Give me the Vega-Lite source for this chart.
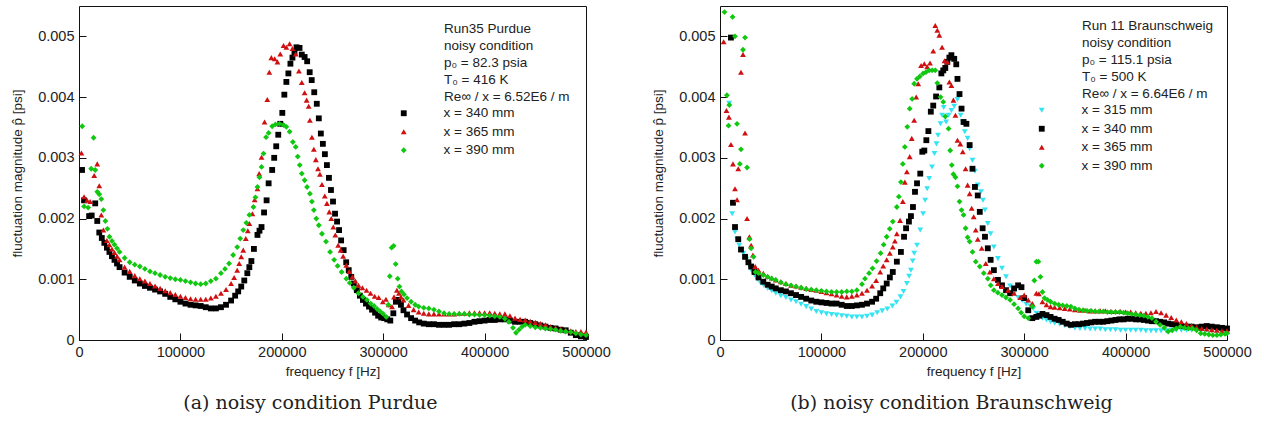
{
"$schema":"https://vega.github.io/schema/vega-lite/v6.json",
"padding":{"left":10,"top":5,"right":5,"bottom":5},
"background":"white",
"spacing":40,
"datasets":{
"purdue":[
{"s":"340","f":3000,"v":0.0028},{"s":"340","f":5000,"v":0.0023},{"s":"340","f":10000,"v":0.00204},{"s":"340","f":12500,"v":0.00205},{"s":"340","f":16000,"v":0.00225},{"s":"340","f":18000,"v":0.00196},{"s":"340","f":20000,"v":0.00177},{"s":"340","f":22500,"v":0.00168},{"s":"340","f":25000,"v":0.0016},{"s":"340","f":27500,"v":0.00152},{"s":"340","f":30000,"v":0.00145},{"s":"340","f":32500,"v":0.00138},{"s":"340","f":35000,"v":0.00132},{"s":"340","f":37500,"v":0.00126},{"s":"340","f":40000,"v":0.0012},{"s":"340","f":45000,"v":0.00111},{"s":"340","f":50000,"v":0.00104},{"s":"340","f":55000,"v":0.00098},{"s":"340","f":60000,"v":0.00093},{"s":"340","f":65000,"v":0.00089},{"s":"340","f":70000,"v":0.00086},{"s":"340","f":75000,"v":0.00083},{"s":"340","f":80000,"v":0.0008},{"s":"340","f":85000,"v":0.00076},{"s":"340","f":90000,"v":0.00071},{"s":"340","f":95000,"v":0.00067},{"s":"340","f":100000,"v":0.00063},{"s":"340","f":105000,"v":0.0006},{"s":"340","f":110000,"v":0.00058},{"s":"340","f":115000,"v":0.00057},{"s":"340","f":120000,"v":0.00056},{"s":"340","f":125000,"v":0.00054},{"s":"340","f":130000,"v":0.00052},{"s":"340","f":135000,"v":0.00052},{"s":"340","f":140000,"v":0.00054},{"s":"340","f":145000,"v":0.00058},{"s":"340","f":150000,"v":0.00065},{"s":"340","f":154000,"v":0.00073},{"s":"340","f":157000,"v":0.0008},{"s":"340","f":160000,"v":0.00088},{"s":"340","f":163000,"v":0.00098},{"s":"340","f":166000,"v":0.0011},{"s":"340","f":168000,"v":0.0012},{"s":"340","f":170000,"v":0.0013},{"s":"340","f":172500,"v":0.0015},{"s":"340","f":176000,"v":0.00173},{"s":"340","f":178000,"v":0.0018},{"s":"340","f":180000,"v":0.00186},{"s":"340","f":182500,"v":0.0021},{"s":"340","f":185000,"v":0.0023},{"s":"340","f":187000,"v":0.00258},{"s":"340","f":190500,"v":0.0028},{"s":"340","f":192500,"v":0.003},{"s":"340","f":194500,"v":0.00319},{"s":"340","f":196500,"v":0.00338},{"s":"340","f":198500,"v":0.00356},{"s":"340","f":200500,"v":0.00374},{"s":"340","f":202500,"v":0.00404},{"s":"340","f":204500,"v":0.00425},{"s":"340","f":206500,"v":0.00439},{"s":"340","f":208500,"v":0.00455},{"s":"340","f":210500,"v":0.00465},{"s":"340","f":212500,"v":0.00474},{"s":"340","f":214500,"v":0.00482},{"s":"340","f":217500,"v":0.00481},{"s":"340","f":219700,"v":0.0047},{"s":"340","f":222500,"v":0.00466},{"s":"340","f":225000,"v":0.00459},{"s":"340","f":227500,"v":0.00441},{"s":"340","f":229500,"v":0.00428},{"s":"340","f":232000,"v":0.00408},{"s":"340","f":234500,"v":0.00389},{"s":"340","f":236500,"v":0.00365},{"s":"340","f":238500,"v":0.0034},{"s":"340","f":240500,"v":0.00323},{"s":"340","f":242500,"v":0.00306},{"s":"340","f":244500,"v":0.00288},{"s":"340","f":246500,"v":0.00267},{"s":"340","f":248500,"v":0.00247},{"s":"340","f":250500,"v":0.00228},{"s":"340","f":252500,"v":0.00208},{"s":"340","f":254500,"v":0.00195},{"s":"340","f":256500,"v":0.00181},{"s":"340","f":258500,"v":0.00164},{"s":"340","f":261000,"v":0.00148},{"s":"340","f":263500,"v":0.00128},{"s":"340","f":266000,"v":0.00115},{"s":"340","f":268500,"v":0.00104},{"s":"340","f":271000,"v":0.00093},{"s":"340","f":274000,"v":0.00082},{"s":"340","f":277000,"v":0.00073},{"s":"340","f":280000,"v":0.00066},{"s":"340","f":283000,"v":0.0006},{"s":"340","f":286000,"v":0.00055},{"s":"340","f":289000,"v":0.0005},{"s":"340","f":292000,"v":0.00045},{"s":"340","f":295000,"v":0.0004},{"s":"340","f":298000,"v":0.00037},{"s":"340","f":301000,"v":0.00036},{"s":"340","f":304000,"v":0.00034},{"s":"340","f":307000,"v":0.00032},{"s":"340","f":310000,"v":0.00044},{"s":"340","f":312500,"v":0.00063},{"s":"340","f":315000,"v":0.00066},{"s":"340","f":317500,"v":0.00058},{"s":"340","f":320000,"v":0.00049},{"s":"340","f":323500,"v":0.00042},{"s":"340","f":327500,"v":0.00036},{"s":"340","f":331500,"v":0.00032},{"s":"340","f":335500,"v":0.00029},{"s":"340","f":340000,"v":0.00027},{"s":"340","f":345000,"v":0.00026},{"s":"340","f":350000,"v":0.00026},{"s":"340","f":355000,"v":0.00025},{"s":"340","f":360000,"v":0.00025},{"s":"340","f":365000,"v":0.00025},{"s":"340","f":370000,"v":0.00026},{"s":"340","f":375000,"v":0.00026},{"s":"340","f":380000,"v":0.00027},{"s":"340","f":385000,"v":0.00028},{"s":"340","f":390000,"v":0.0003},{"s":"340","f":395000,"v":0.00031},{"s":"340","f":400000,"v":0.00032},{"s":"340","f":405000,"v":0.00033},{"s":"340","f":410000,"v":0.00033},{"s":"340","f":415000,"v":0.00034},{"s":"340","f":420000,"v":0.00034},{"s":"340","f":425000,"v":0.00032},{"s":"340","f":430000,"v":0.0003},{"s":"340","f":435000,"v":0.0003},{"s":"340","f":440000,"v":0.0003},{"s":"340","f":445000,"v":0.00028},{"s":"340","f":450000,"v":0.00026},{"s":"340","f":455000,"v":0.00024},{"s":"340","f":460000,"v":0.00022},{"s":"340","f":465000,"v":0.0002},{"s":"340","f":470000,"v":0.00019},{"s":"340","f":475000,"v":0.00017},{"s":"340","f":480000,"v":0.00016},{"s":"340","f":485000,"v":0.00012},{"s":"340","f":490000,"v":0.00008},{"s":"340","f":495000,"v":0.00006},{"s":"340","f":500000,"v":0.00005},
{"s":"365","f":2400,"v":0.00308},{"s":"365","f":5000,"v":0.00236},{"s":"365","f":8000,"v":0.0023},{"s":"365","f":11000,"v":0.00228},{"s":"365","f":15000,"v":0.00271},{"s":"365","f":18000,"v":0.0029},{"s":"365","f":20000,"v":0.00254},{"s":"365","f":22000,"v":0.00206},{"s":"365","f":24000,"v":0.00181},{"s":"365","f":27500,"v":0.00164},{"s":"365","f":30000,"v":0.00157},{"s":"365","f":32500,"v":0.0015},{"s":"365","f":35000,"v":0.00144},{"s":"365","f":37500,"v":0.00138},{"s":"365","f":40000,"v":0.00132},{"s":"365","f":45000,"v":0.0012},{"s":"365","f":50000,"v":0.00113},{"s":"365","f":55000,"v":0.00106},{"s":"365","f":60000,"v":0.00101},{"s":"365","f":65000,"v":0.00097},{"s":"365","f":70000,"v":0.00093},{"s":"365","f":75000,"v":0.00089},{"s":"365","f":80000,"v":0.00085},{"s":"365","f":85000,"v":0.00081},{"s":"365","f":90000,"v":0.00078},{"s":"365","f":95000,"v":0.00075},{"s":"365","f":100000,"v":0.00072},{"s":"365","f":105000,"v":0.0007},{"s":"365","f":110000,"v":0.00068},{"s":"365","f":115000,"v":0.00067},{"s":"365","f":120000,"v":0.00067},{"s":"365","f":125000,"v":0.00067},{"s":"365","f":130000,"v":0.00069},{"s":"365","f":135000,"v":0.00072},{"s":"365","f":140000,"v":0.00077},{"s":"365","f":145000,"v":0.00083},{"s":"365","f":150000,"v":0.00093},{"s":"365","f":153000,"v":0.00103},{"s":"365","f":156000,"v":0.00115},{"s":"365","f":158000,"v":0.00126},{"s":"365","f":160000,"v":0.00137},{"s":"365","f":162000,"v":0.00148},{"s":"365","f":164500,"v":0.00167},{"s":"365","f":166500,"v":0.0018},{"s":"365","f":168000,"v":0.00192},{"s":"365","f":171000,"v":0.00208},{"s":"365","f":173300,"v":0.00231},{"s":"365","f":176000,"v":0.00249},{"s":"365","f":177700,"v":0.00274},{"s":"365","f":180000,"v":0.00301},{"s":"365","f":183000,"v":0.00359},{"s":"365","f":185700,"v":0.00396},{"s":"365","f":187700,"v":0.00441},{"s":"365","f":189700,"v":0.00465},{"s":"365","f":193000,"v":0.00463},{"s":"365","f":195700,"v":0.00458},{"s":"365","f":198500,"v":0.00471},{"s":"365","f":201700,"v":0.00485},{"s":"365","f":204500,"v":0.00482},{"s":"365","f":207700,"v":0.00488},{"s":"365","f":210500,"v":0.0048},{"s":"365","f":213700,"v":0.00471},{"s":"365","f":216900,"v":0.00443},{"s":"365","f":219700,"v":0.00424},{"s":"365","f":222500,"v":0.00407},{"s":"365","f":224500,"v":0.00395},{"s":"365","f":226500,"v":0.00385},{"s":"365","f":227700,"v":0.00362},{"s":"365","f":229700,"v":0.00334},{"s":"365","f":231600,"v":0.00314},{"s":"365","f":233600,"v":0.00297},{"s":"365","f":235700,"v":0.00282},{"s":"365","f":237600,"v":0.00273},{"s":"365","f":239600,"v":0.00256},{"s":"365","f":242400,"v":0.00237},{"s":"365","f":244500,"v":0.00225},{"s":"365","f":246800,"v":0.00211},{"s":"365","f":248800,"v":0.002},{"s":"365","f":250800,"v":0.00186},{"s":"365","f":252800,"v":0.00173},{"s":"365","f":255600,"v":0.00156},{"s":"365","f":258000,"v":0.00148},{"s":"365","f":260500,"v":0.00138},{"s":"365","f":263600,"v":0.00123},{"s":"365","f":266500,"v":0.00113},{"s":"365","f":269600,"v":0.00104},{"s":"365","f":272500,"v":0.00097},{"s":"365","f":275600,"v":0.0009},{"s":"365","f":279500,"v":0.00086},{"s":"365","f":283600,"v":0.00082},{"s":"365","f":287500,"v":0.00077},{"s":"365","f":291600,"v":0.00072},{"s":"365","f":295600,"v":0.0007},{"s":"365","f":299600,"v":0.00063},{"s":"365","f":302700,"v":0.00067},{"s":"365","f":305500,"v":0.00058},{"s":"365","f":308700,"v":0.00055},{"s":"365","f":310700,"v":0.00071},{"s":"365","f":313500,"v":0.00082},{"s":"365","f":315500,"v":0.00077},{"s":"365","f":317500,"v":0.00071},{"s":"365","f":320000,"v":0.00066},{"s":"365","f":325000,"v":0.00057},{"s":"365","f":330000,"v":0.0005},{"s":"365","f":335000,"v":0.00046},{"s":"365","f":340000,"v":0.00044},{"s":"365","f":345000,"v":0.00043},{"s":"365","f":350000,"v":0.00043},{"s":"365","f":355000,"v":0.00043},{"s":"365","f":360000,"v":0.00043},{"s":"365","f":365000,"v":0.00043},{"s":"365","f":370000,"v":0.00043},{"s":"365","f":375000,"v":0.00044},{"s":"365","f":380000,"v":0.00044},{"s":"365","f":385000,"v":0.00045},{"s":"365","f":390000,"v":0.00045},{"s":"365","f":395000,"v":0.00045},{"s":"365","f":400000,"v":0.00045},{"s":"365","f":405000,"v":0.00045},{"s":"365","f":410000,"v":0.00044},{"s":"365","f":415000,"v":0.00043},{"s":"365","f":420000,"v":0.00043},{"s":"365","f":425000,"v":0.0004},{"s":"365","f":430000,"v":0.00036},{"s":"365","f":435000,"v":0.00034},{"s":"365","f":440000,"v":0.00033},{"s":"365","f":445000,"v":0.00031},{"s":"365","f":450000,"v":0.00029},{"s":"365","f":455000,"v":0.00027},{"s":"365","f":460000,"v":0.00025},{"s":"365","f":465000,"v":0.00022},{"s":"365","f":470000,"v":0.0002},{"s":"365","f":475000,"v":0.00018},{"s":"365","f":480000,"v":0.00016},{"s":"365","f":485000,"v":0.00015},{"s":"365","f":490000,"v":0.00014},{"s":"365","f":495000,"v":0.00014},{"s":"365","f":500000,"v":0.00013},
{"s":"390","f":3200,"v":0.00352},{"s":"390","f":5000,"v":0.0022},{"s":"390","f":9000,"v":0.00218},{"s":"390","f":12000,"v":0.00282},{"s":"390","f":14400,"v":0.00333},{"s":"390","f":16000,"v":0.0028},{"s":"390","f":18000,"v":0.00244},{"s":"390","f":20000,"v":0.0024},{"s":"390","f":22000,"v":0.00232},{"s":"390","f":24000,"v":0.00214},{"s":"390","f":26000,"v":0.00196},{"s":"390","f":28000,"v":0.00183},{"s":"390","f":30000,"v":0.0017},{"s":"390","f":32500,"v":0.00163},{"s":"390","f":35000,"v":0.00157},{"s":"390","f":37500,"v":0.00151},{"s":"390","f":40000,"v":0.00145},{"s":"390","f":45000,"v":0.00135},{"s":"390","f":50000,"v":0.00128},{"s":"390","f":55000,"v":0.00124},{"s":"390","f":60000,"v":0.00121},{"s":"390","f":65000,"v":0.00117},{"s":"390","f":70000,"v":0.00113},{"s":"390","f":75000,"v":0.0011},{"s":"390","f":80000,"v":0.00107},{"s":"390","f":85000,"v":0.00104},{"s":"390","f":90000,"v":0.00102},{"s":"390","f":95000,"v":0.001},{"s":"390","f":100000,"v":0.00099},{"s":"390","f":105000,"v":0.00097},{"s":"390","f":110000,"v":0.00095},{"s":"390","f":115000,"v":0.00093},{"s":"390","f":120000,"v":0.00092},{"s":"390","f":125000,"v":0.00093},{"s":"390","f":130000,"v":0.00097},{"s":"390","f":135000,"v":0.00101},{"s":"390","f":140000,"v":0.0011},{"s":"390","f":144000,"v":0.00117},{"s":"390","f":148000,"v":0.00126},{"s":"390","f":152000,"v":0.0014},{"s":"390","f":156000,"v":0.00153},{"s":"390","f":159000,"v":0.00167},{"s":"390","f":162000,"v":0.00181},{"s":"390","f":165000,"v":0.00193},{"s":"390","f":168000,"v":0.00206},{"s":"390","f":172000,"v":0.00219},{"s":"390","f":174000,"v":0.00235},{"s":"390","f":176000,"v":0.00252},{"s":"390","f":178000,"v":0.00268},{"s":"390","f":180000,"v":0.00285},{"s":"390","f":182000,"v":0.00307},{"s":"390","f":184500,"v":0.00334},{"s":"390","f":187000,"v":0.00341},{"s":"390","f":190500,"v":0.00352},{"s":"390","f":193700,"v":0.00355},{"s":"390","f":197700,"v":0.00356},{"s":"390","f":201700,"v":0.00354},{"s":"390","f":204500,"v":0.00351},{"s":"390","f":207700,"v":0.00343},{"s":"390","f":210900,"v":0.00326},{"s":"390","f":213700,"v":0.00318},{"s":"390","f":215700,"v":0.00302},{"s":"390","f":217700,"v":0.00288},{"s":"390","f":219700,"v":0.00274},{"s":"390","f":222500,"v":0.00263},{"s":"390","f":224900,"v":0.00252},{"s":"390","f":227700,"v":0.00241},{"s":"390","f":229700,"v":0.00228},{"s":"390","f":231600,"v":0.00214},{"s":"390","f":234000,"v":0.002},{"s":"390","f":236500,"v":0.00189},{"s":"390","f":239600,"v":0.00175},{"s":"390","f":243600,"v":0.00162},{"s":"390","f":247600,"v":0.00145},{"s":"390","f":251600,"v":0.00132},{"s":"390","f":255000,"v":0.00122},{"s":"390","f":259000,"v":0.00112},{"s":"390","f":263600,"v":0.00101},{"s":"390","f":267000,"v":0.00094},{"s":"390","f":271000,"v":0.00086},{"s":"390","f":275600,"v":0.00077},{"s":"390","f":280000,"v":0.00071},{"s":"390","f":284000,"v":0.00066},{"s":"390","f":287600,"v":0.0006},{"s":"390","f":291000,"v":0.00056},{"s":"390","f":294000,"v":0.00051},{"s":"390","f":297000,"v":0.00047},{"s":"390","f":300000,"v":0.00043},{"s":"390","f":303000,"v":0.00038},{"s":"390","f":305000,"v":0.00058},{"s":"390","f":306500,"v":0.00105},{"s":"390","f":308300,"v":0.00152},{"s":"390","f":310300,"v":0.00155},{"s":"390","f":312300,"v":0.00125},{"s":"390","f":314300,"v":0.00101},{"s":"390","f":316000,"v":0.00088},{"s":"390","f":318000,"v":0.0008},{"s":"390","f":320500,"v":0.00075},{"s":"390","f":323500,"v":0.00069},{"s":"390","f":327500,"v":0.00063},{"s":"390","f":331500,"v":0.00058},{"s":"390","f":335000,"v":0.00055},{"s":"390","f":340000,"v":0.00053},{"s":"390","f":345000,"v":0.00052},{"s":"390","f":350000,"v":0.0005},{"s":"390","f":355000,"v":0.00047},{"s":"390","f":360000,"v":0.00044},{"s":"390","f":365000,"v":0.00043},{"s":"390","f":370000,"v":0.00043},{"s":"390","f":375000,"v":0.00043},{"s":"390","f":380000,"v":0.00043},{"s":"390","f":385000,"v":0.00042},{"s":"390","f":390000,"v":0.00042},{"s":"390","f":395000,"v":0.00041},{"s":"390","f":400000,"v":0.00041},{"s":"390","f":405000,"v":0.0004},{"s":"390","f":410000,"v":0.00039},{"s":"390","f":415000,"v":0.00038},{"s":"390","f":420000,"v":0.00035},{"s":"390","f":424000,"v":0.0003},{"s":"390","f":428000,"v":0.0002},{"s":"390","f":431000,"v":0.00012},{"s":"390","f":434000,"v":0.00017},{"s":"390","f":437000,"v":0.00022},{"s":"390","f":440000,"v":0.00025},{"s":"390","f":445000,"v":0.00023},{"s":"390","f":450000,"v":0.00021},{"s":"390","f":455000,"v":0.0002},{"s":"390","f":460000,"v":0.00019},{"s":"390","f":465000,"v":0.00018},{"s":"390","f":470000,"v":0.00017},{"s":"390","f":475000,"v":0.00015},{"s":"390","f":480000,"v":0.00014},{"s":"390","f":485000,"v":0.00013},{"s":"390","f":490000,"v":0.00011},{"s":"390","f":495000,"v":0.00009},{"s":"390","f":500000,"v":0.00008}
],
"braun":[
{"s":"315","f":9000,"v":0.0039},{"s":"315","f":12000,"v":0.00208},{"s":"315","f":14800,"v":0.00178},{"s":"315","f":17000,"v":0.00166},{"s":"315","f":19000,"v":0.00156},{"s":"315","f":21000,"v":0.00149},{"s":"315","f":23000,"v":0.00143},{"s":"315","f":26000,"v":0.00133},{"s":"315","f":28500,"v":0.00124},{"s":"315","f":31000,"v":0.00115},{"s":"315","f":34000,"v":0.00107},{"s":"315","f":37000,"v":0.001},{"s":"315","f":40000,"v":0.00094},{"s":"315","f":43000,"v":0.0009},{"s":"315","f":47000,"v":0.00085},{"s":"315","f":51000,"v":0.00081},{"s":"315","f":55000,"v":0.00077},{"s":"315","f":60000,"v":0.00073},{"s":"315","f":65000,"v":0.0007},{"s":"315","f":70000,"v":0.00066},{"s":"315","f":75000,"v":0.00063},{"s":"315","f":80000,"v":0.00059},{"s":"315","f":85000,"v":0.00055},{"s":"315","f":90000,"v":0.00051},{"s":"315","f":95000,"v":0.00047},{"s":"315","f":100000,"v":0.00045},{"s":"315","f":105000,"v":0.00043},{"s":"315","f":110000,"v":0.00042},{"s":"315","f":115000,"v":0.00041},{"s":"315","f":120000,"v":0.0004},{"s":"315","f":125000,"v":0.00039},{"s":"315","f":130000,"v":0.00038},{"s":"315","f":135000,"v":0.00038},{"s":"315","f":140000,"v":0.00038},{"s":"315","f":145000,"v":0.00039},{"s":"315","f":150000,"v":0.00041},{"s":"315","f":155000,"v":0.00045},{"s":"315","f":160000,"v":0.00048},{"s":"315","f":165000,"v":0.00051},{"s":"315","f":170000,"v":0.00056},{"s":"315","f":174000,"v":0.00062},{"s":"315","f":178000,"v":0.00071},{"s":"315","f":181000,"v":0.0008},{"s":"315","f":184300,"v":0.00093},{"s":"315","f":186500,"v":0.00105},{"s":"315","f":188300,"v":0.00115},{"s":"315","f":190000,"v":0.0013},{"s":"315","f":191500,"v":0.00143},{"s":"315","f":194300,"v":0.00156},{"s":"315","f":197500,"v":0.00181},{"s":"315","f":200300,"v":0.00208},{"s":"315","f":202300,"v":0.0023},{"s":"315","f":204300,"v":0.00249},{"s":"315","f":206300,"v":0.00266},{"s":"315","f":209100,"v":0.00285},{"s":"315","f":211500,"v":0.00307},{"s":"315","f":213500,"v":0.00323},{"s":"315","f":215000,"v":0.00337},{"s":"315","f":217500,"v":0.00356},{"s":"315","f":219000,"v":0.0037},{"s":"315","f":220600,"v":0.00383},{"s":"315","f":223000,"v":0.00359},{"s":"315","f":225400,"v":0.0037},{"s":"315","f":228200,"v":0.00378},{"s":"315","f":231000,"v":0.00385},{"s":"315","f":234200,"v":0.00396},{"s":"315","f":237400,"v":0.0037},{"s":"315","f":239400,"v":0.00359},{"s":"315","f":241400,"v":0.00343},{"s":"315","f":244200,"v":0.00332},{"s":"315","f":246200,"v":0.00315},{"s":"315","f":249000,"v":0.00296},{"s":"315","f":251400,"v":0.00278},{"s":"315","f":254200,"v":0.00255},{"s":"315","f":257400,"v":0.00244},{"s":"315","f":259400,"v":0.0023},{"s":"315","f":261300,"v":0.00214},{"s":"315","f":264100,"v":0.00192},{"s":"315","f":266900,"v":0.00175},{"s":"315","f":270100,"v":0.00153},{"s":"315","f":274100,"v":0.00134},{"s":"315","f":278100,"v":0.00118},{"s":"315","f":282100,"v":0.00104},{"s":"315","f":286100,"v":0.00089},{"s":"315","f":290000,"v":0.00077},{"s":"315","f":294000,"v":0.0007},{"s":"315","f":298000,"v":0.00065},{"s":"315","f":302000,"v":0.00059},{"s":"315","f":306000,"v":0.00056},{"s":"315","f":309000,"v":0.00052},{"s":"315","f":312000,"v":0.00044},{"s":"315","f":315000,"v":0.0004},{"s":"315","f":318000,"v":0.00036},{"s":"315","f":322000,"v":0.00033},{"s":"315","f":326000,"v":0.0003},{"s":"315","f":330000,"v":0.00028},{"s":"315","f":335000,"v":0.00026},{"s":"315","f":340000,"v":0.00024},{"s":"315","f":345000,"v":0.00022},{"s":"315","f":350000,"v":0.0002},{"s":"315","f":355000,"v":0.00019},{"s":"315","f":360000,"v":0.00019},{"s":"315","f":365000,"v":0.00018},{"s":"315","f":370000,"v":0.00018},{"s":"315","f":375000,"v":0.00018},{"s":"315","f":380000,"v":0.00017},{"s":"315","f":385000,"v":0.00017},{"s":"315","f":390000,"v":0.00017},{"s":"315","f":395000,"v":0.00016},{"s":"315","f":400000,"v":0.00016},{"s":"315","f":405000,"v":0.00016},{"s":"315","f":410000,"v":0.00016},{"s":"315","f":415000,"v":0.00016},{"s":"315","f":420000,"v":0.00015},{"s":"315","f":425000,"v":0.00015},{"s":"315","f":430000,"v":0.00015},{"s":"315","f":435000,"v":0.00015},{"s":"315","f":440000,"v":0.00015},{"s":"315","f":445000,"v":0.00016},{"s":"315","f":450000,"v":0.00016},{"s":"315","f":455000,"v":0.00016},{"s":"315","f":460000,"v":0.00016},{"s":"315","f":465000,"v":0.00016},{"s":"315","f":470000,"v":0.00016},{"s":"315","f":475000,"v":0.00016},{"s":"315","f":480000,"v":0.00016},{"s":"315","f":485000,"v":0.00015},{"s":"315","f":490000,"v":0.00015},{"s":"315","f":495000,"v":0.00015},{"s":"315","f":500000,"v":0.00015},
{"s":"340","f":10800,"v":0.00498},{"s":"340","f":12800,"v":0.00226},{"s":"340","f":14800,"v":0.00186},{"s":"340","f":18000,"v":0.00166},{"s":"340","f":20700,"v":0.00149},{"s":"340","f":24700,"v":0.00137},{"s":"340","f":28000,"v":0.00128},{"s":"340","f":30700,"v":0.00121},{"s":"340","f":34000,"v":0.00112},{"s":"340","f":38000,"v":0.00103},{"s":"340","f":42700,"v":0.00096},{"s":"340","f":47000,"v":0.00091},{"s":"340","f":51000,"v":0.00088},{"s":"340","f":55000,"v":0.00085},{"s":"340","f":60000,"v":0.00082},{"s":"340","f":65000,"v":0.0008},{"s":"340","f":70000,"v":0.00077},{"s":"340","f":75000,"v":0.00074},{"s":"340","f":80000,"v":0.00071},{"s":"340","f":85000,"v":0.00068},{"s":"340","f":90000,"v":0.00065},{"s":"340","f":95000,"v":0.00063},{"s":"340","f":100000,"v":0.00062},{"s":"340","f":105000,"v":0.00061},{"s":"340","f":110000,"v":0.0006},{"s":"340","f":115000,"v":0.0006},{"s":"340","f":120000,"v":0.00058},{"s":"340","f":125000,"v":0.00056},{"s":"340","f":130000,"v":0.00056},{"s":"340","f":135000,"v":0.00057},{"s":"340","f":140000,"v":0.00058},{"s":"340","f":145000,"v":0.0006},{"s":"340","f":150000,"v":0.00063},{"s":"340","f":154000,"v":0.00068},{"s":"340","f":158000,"v":0.00077},{"s":"340","f":161000,"v":0.00085},{"s":"340","f":164400,"v":0.00093},{"s":"340","f":167500,"v":0.00103},{"s":"340","f":170400,"v":0.00112},{"s":"340","f":174400,"v":0.00129},{"s":"340","f":178400,"v":0.00145},{"s":"340","f":181500,"v":0.0017},{"s":"340","f":183500,"v":0.00184},{"s":"340","f":186300,"v":0.00195},{"s":"340","f":188300,"v":0.00204},{"s":"340","f":190300,"v":0.00219},{"s":"340","f":192300,"v":0.00244},{"s":"340","f":194300,"v":0.00258},{"s":"340","f":197500,"v":0.00274},{"s":"340","f":199500,"v":0.0031},{"s":"340","f":201500,"v":0.00312},{"s":"340","f":203500,"v":0.00329},{"s":"340","f":205500,"v":0.00344},{"s":"340","f":207900,"v":0.00376},{"s":"340","f":210300,"v":0.00386},{"s":"340","f":213100,"v":0.00401},{"s":"340","f":216300,"v":0.00416},{"s":"340","f":218300,"v":0.00439},{"s":"340","f":220200,"v":0.00444},{"s":"340","f":222200,"v":0.00448},{"s":"340","f":224200,"v":0.00458},{"s":"340","f":226200,"v":0.00465},{"s":"340","f":228200,"v":0.00469},{"s":"340","f":231000,"v":0.00463},{"s":"340","f":233000,"v":0.00454},{"s":"340","f":234200,"v":0.0043},{"s":"340","f":236200,"v":0.00405},{"s":"340","f":238200,"v":0.00381},{"s":"340","f":240200,"v":0.00359},{"s":"340","f":243000,"v":0.00356},{"s":"340","f":246200,"v":0.00321},{"s":"340","f":249000,"v":0.00282},{"s":"340","f":251400,"v":0.00252},{"s":"340","f":254200,"v":0.00238},{"s":"340","f":256200,"v":0.00211},{"s":"340","f":259000,"v":0.00184},{"s":"340","f":261300,"v":0.0017},{"s":"340","f":264100,"v":0.00151},{"s":"340","f":266900,"v":0.00132},{"s":"340","f":270100,"v":0.00115},{"s":"340","f":274100,"v":0.00099},{"s":"340","f":278100,"v":0.0009},{"s":"340","f":282100,"v":0.00082},{"s":"340","f":286100,"v":0.00077},{"s":"340","f":290000,"v":0.00085},{"s":"340","f":294000,"v":0.0009},{"s":"340","f":297300,"v":0.00087},{"s":"340","f":300000,"v":0.00069},{"s":"340","f":304000,"v":0.00049},{"s":"340","f":308000,"v":0.00036},{"s":"340","f":312000,"v":0.00038},{"s":"340","f":315000,"v":0.0004},{"s":"340","f":318000,"v":0.00043},{"s":"340","f":322000,"v":0.00041},{"s":"340","f":326000,"v":0.00038},{"s":"340","f":330000,"v":0.00035},{"s":"340","f":334000,"v":0.00033},{"s":"340","f":338000,"v":0.0003},{"s":"340","f":342000,"v":0.00027},{"s":"340","f":346000,"v":0.00025},{"s":"340","f":350000,"v":0.00026},{"s":"340","f":354000,"v":0.00026},{"s":"340","f":358000,"v":0.00027},{"s":"340","f":362000,"v":0.00028},{"s":"340","f":366000,"v":0.00029},{"s":"340","f":370000,"v":0.0003},{"s":"340","f":374000,"v":0.0003},{"s":"340","f":378000,"v":0.0003},{"s":"340","f":382000,"v":0.00031},{"s":"340","f":386000,"v":0.00032},{"s":"340","f":390000,"v":0.00033},{"s":"340","f":394000,"v":0.00034},{"s":"340","f":398000,"v":0.00034},{"s":"340","f":402000,"v":0.00035},{"s":"340","f":406000,"v":0.00035},{"s":"340","f":410000,"v":0.00034},{"s":"340","f":414000,"v":0.00034},{"s":"340","f":418000,"v":0.00033},{"s":"340","f":422000,"v":0.00032},{"s":"340","f":426000,"v":0.00031},{"s":"340","f":430000,"v":0.00031},{"s":"340","f":434000,"v":0.0003},{"s":"340","f":438000,"v":0.00029},{"s":"340","f":442000,"v":0.00027},{"s":"340","f":446000,"v":0.00026},{"s":"340","f":450000,"v":0.00025},{"s":"340","f":455000,"v":0.00023},{"s":"340","f":460000,"v":0.00022},{"s":"340","f":465000,"v":0.00022},{"s":"340","f":470000,"v":0.00021},{"s":"340","f":475000,"v":0.00022},{"s":"340","f":480000,"v":0.00023},{"s":"340","f":485000,"v":0.00022},{"s":"340","f":490000,"v":0.00021},{"s":"340","f":495000,"v":0.0002},{"s":"340","f":500000,"v":0.00019},
{"s":"365","f":3600,"v":0.00491},{"s":"365","f":6400,"v":0.00378},{"s":"365","f":8800,"v":0.00367},{"s":"365","f":10800,"v":0.00322},{"s":"365","f":12800,"v":0.0029},{"s":"365","f":14800,"v":0.00249},{"s":"365","f":16800,"v":0.00231},{"s":"365","f":18000,"v":0.00282},{"s":"365","f":20700,"v":0.00441},{"s":"365","f":22700,"v":0.0047},{"s":"365","f":24700,"v":0.00341},{"s":"365","f":26700,"v":0.002},{"s":"365","f":29000,"v":0.0017},{"s":"365","f":30700,"v":0.00156},{"s":"365","f":32500,"v":0.0014},{"s":"365","f":34700,"v":0.00121},{"s":"365","f":38000,"v":0.00115},{"s":"365","f":42700,"v":0.0011},{"s":"365","f":47000,"v":0.00105},{"s":"365","f":51000,"v":0.00102},{"s":"365","f":55000,"v":0.00099},{"s":"365","f":60000,"v":0.00096},{"s":"365","f":65000,"v":0.00093},{"s":"365","f":70000,"v":0.0009},{"s":"365","f":75000,"v":0.00089},{"s":"365","f":80000,"v":0.00087},{"s":"365","f":85000,"v":0.00085},{"s":"365","f":90000,"v":0.00083},{"s":"365","f":95000,"v":0.00082},{"s":"365","f":100000,"v":0.0008},{"s":"365","f":105000,"v":0.00078},{"s":"365","f":110000,"v":0.00076},{"s":"365","f":115000,"v":0.00074},{"s":"365","f":120000,"v":0.00072},{"s":"365","f":125000,"v":0.00071},{"s":"365","f":130000,"v":0.00072},{"s":"365","f":135000,"v":0.00074},{"s":"365","f":140000,"v":0.00077},{"s":"365","f":145000,"v":0.00082},{"s":"365","f":150000,"v":0.00089},{"s":"365","f":154000,"v":0.00098},{"s":"365","f":158000,"v":0.00112},{"s":"365","f":161000,"v":0.00122},{"s":"365","f":164400,"v":0.00132},{"s":"365","f":167500,"v":0.00143},{"s":"365","f":170400,"v":0.00153},{"s":"365","f":172500,"v":0.00163},{"s":"365","f":174400,"v":0.00175},{"s":"365","f":177600,"v":0.00197},{"s":"365","f":180300,"v":0.00228},{"s":"365","f":182300,"v":0.0026},{"s":"365","f":184300,"v":0.00277},{"s":"365","f":187100,"v":0.00302},{"s":"365","f":189100,"v":0.00332},{"s":"365","f":191500,"v":0.00362},{"s":"365","f":193500,"v":0.004},{"s":"365","f":195500,"v":0.00422},{"s":"365","f":198300,"v":0.00452},{"s":"365","f":201500,"v":0.00455},{"s":"365","f":204300,"v":0.0045},{"s":"365","f":207100,"v":0.00456},{"s":"365","f":210300,"v":0.00476},{"s":"365","f":212300,"v":0.00518},{"s":"365","f":214300,"v":0.0051},{"s":"365","f":216300,"v":0.00502},{"s":"365","f":219000,"v":0.00482},{"s":"365","f":221400,"v":0.0046},{"s":"365","f":224200,"v":0.00458},{"s":"365","f":226200,"v":0.00425},{"s":"365","f":228200,"v":0.00419},{"s":"365","f":230200,"v":0.00395},{"s":"365","f":232200,"v":0.0037},{"s":"365","f":234200,"v":0.00329},{"s":"365","f":237000,"v":0.00323},{"s":"365","f":239400,"v":0.0031},{"s":"365","f":242200,"v":0.00282},{"s":"365","f":244200,"v":0.00255},{"s":"365","f":246200,"v":0.00241},{"s":"365","f":248200,"v":0.00217},{"s":"365","f":250200,"v":0.00203},{"s":"365","f":252200,"v":0.00181},{"s":"365","f":254200,"v":0.00166},{"s":"365","f":258100,"v":0.00151},{"s":"365","f":262100,"v":0.00126},{"s":"365","f":266100,"v":0.00112},{"s":"365","f":270100,"v":0.00101},{"s":"365","f":274100,"v":0.00093},{"s":"365","f":278100,"v":0.00088},{"s":"365","f":284100,"v":0.00082},{"s":"365","f":290000,"v":0.00077},{"s":"365","f":296100,"v":0.0007},{"s":"365","f":300000,"v":0.00074},{"s":"365","f":304000,"v":0.00066},{"s":"365","f":308000,"v":0.0006},{"s":"365","f":312000,"v":0.00077},{"s":"365","f":314500,"v":0.00076},{"s":"365","f":318000,"v":0.00063},{"s":"365","f":322000,"v":0.00058},{"s":"365","f":326000,"v":0.00055},{"s":"365","f":330000,"v":0.00054},{"s":"365","f":335000,"v":0.00053},{"s":"365","f":340000,"v":0.00052},{"s":"365","f":345000,"v":0.00051},{"s":"365","f":350000,"v":0.0005},{"s":"365","f":355000,"v":0.00049},{"s":"365","f":360000,"v":0.00049},{"s":"365","f":365000,"v":0.00048},{"s":"365","f":370000,"v":0.00048},{"s":"365","f":375000,"v":0.00048},{"s":"365","f":380000,"v":0.00048},{"s":"365","f":385000,"v":0.00047},{"s":"365","f":390000,"v":0.00047},{"s":"365","f":395000,"v":0.00047},{"s":"365","f":400000,"v":0.00046},{"s":"365","f":405000,"v":0.00046},{"s":"365","f":410000,"v":0.00045},{"s":"365","f":415000,"v":0.00044},{"s":"365","f":420000,"v":0.00044},{"s":"365","f":425000,"v":0.00045},{"s":"365","f":430000,"v":0.00047},{"s":"365","f":435000,"v":0.00045},{"s":"365","f":440000,"v":0.00041},{"s":"365","f":445000,"v":0.00037},{"s":"365","f":450000,"v":0.00033},{"s":"365","f":455000,"v":0.0003},{"s":"365","f":460000,"v":0.00027},{"s":"365","f":465000,"v":0.00024},{"s":"365","f":470000,"v":0.00021},{"s":"365","f":475000,"v":0.00019},{"s":"365","f":480000,"v":0.00018},{"s":"365","f":485000,"v":0.00017},{"s":"365","f":490000,"v":0.00016},{"s":"365","f":495000,"v":0.00015},{"s":"365","f":500000,"v":0.00015},
{"s":"390","f":4400,"v":0.0054},{"s":"390","f":6800,"v":0.00403},{"s":"390","f":8400,"v":0.00353},{"s":"390","f":9200,"v":0.00387},{"s":"390","f":12400,"v":0.00532},{"s":"390","f":14800,"v":0.005},{"s":"390","f":16800,"v":0.00356},{"s":"390","f":19600,"v":0.0029},{"s":"390","f":20700,"v":0.00314},{"s":"390","f":22700,"v":0.00478},{"s":"390","f":24700,"v":0.00498},{"s":"390","f":26700,"v":0.00284},{"s":"390","f":29100,"v":0.00166},{"s":"390","f":30700,"v":0.00151},{"s":"390","f":33100,"v":0.00137},{"s":"390","f":35000,"v":0.00112},{"s":"390","f":38000,"v":0.0011},{"s":"390","f":42700,"v":0.00107},{"s":"390","f":47000,"v":0.00104},{"s":"390","f":51000,"v":0.00101},{"s":"390","f":55000,"v":0.00099},{"s":"390","f":60000,"v":0.00095},{"s":"390","f":65000,"v":0.00092},{"s":"390","f":70000,"v":0.0009},{"s":"390","f":75000,"v":0.00088},{"s":"390","f":80000,"v":0.00086},{"s":"390","f":85000,"v":0.00084},{"s":"390","f":90000,"v":0.00083},{"s":"390","f":95000,"v":0.00082},{"s":"390","f":100000,"v":0.00081},{"s":"390","f":105000,"v":0.0008},{"s":"390","f":110000,"v":0.00079},{"s":"390","f":115000,"v":0.00079},{"s":"390","f":120000,"v":0.00079},{"s":"390","f":125000,"v":0.0008},{"s":"390","f":130000,"v":0.0008},{"s":"390","f":135000,"v":0.00082},{"s":"390","f":140000,"v":0.00092},{"s":"390","f":143000,"v":0.00101},{"s":"390","f":147000,"v":0.0011},{"s":"390","f":150400,"v":0.00118},{"s":"390","f":154400,"v":0.0013},{"s":"390","f":158400,"v":0.00143},{"s":"390","f":161400,"v":0.00157},{"s":"390","f":164400,"v":0.0017},{"s":"390","f":167400,"v":0.00183},{"s":"390","f":170400,"v":0.00195},{"s":"390","f":174400,"v":0.00219},{"s":"390","f":176400,"v":0.00236},{"s":"390","f":178400,"v":0.0026},{"s":"390","f":180300,"v":0.0029},{"s":"390","f":182300,"v":0.00318},{"s":"390","f":184700,"v":0.00351},{"s":"390","f":187100,"v":0.00381},{"s":"390","f":189500,"v":0.00397},{"s":"390","f":191500,"v":0.00422},{"s":"390","f":194300,"v":0.0043},{"s":"390","f":197100,"v":0.00434},{"s":"390","f":200300,"v":0.00439},{"s":"390","f":203100,"v":0.00441},{"s":"390","f":206300,"v":0.00444},{"s":"390","f":209300,"v":0.00444},{"s":"390","f":212300,"v":0.00444},{"s":"390","f":214300,"v":0.00423},{"s":"390","f":217500,"v":0.004},{"s":"390","f":220200,"v":0.00392},{"s":"390","f":222200,"v":0.00368},{"s":"390","f":225400,"v":0.00348},{"s":"390","f":227000,"v":0.00312},{"s":"390","f":228600,"v":0.00288},{"s":"390","f":230200,"v":0.00273},{"s":"390","f":232200,"v":0.00268},{"s":"390","f":234200,"v":0.00253},{"s":"390","f":236200,"v":0.00228},{"s":"390","f":238200,"v":0.00214},{"s":"390","f":240200,"v":0.00206},{"s":"390","f":242200,"v":0.00184},{"s":"390","f":244200,"v":0.00169},{"s":"390","f":246200,"v":0.00162},{"s":"390","f":249000,"v":0.00145},{"s":"390","f":252200,"v":0.00129},{"s":"390","f":256200,"v":0.00121},{"s":"390","f":260100,"v":0.0011},{"s":"390","f":264100,"v":0.00101},{"s":"390","f":267000,"v":0.0009},{"s":"390","f":270100,"v":0.00082},{"s":"390","f":274000,"v":0.00078},{"s":"390","f":278100,"v":0.00074},{"s":"390","f":282000,"v":0.0007},{"s":"390","f":286100,"v":0.00066},{"s":"390","f":290000,"v":0.00059},{"s":"390","f":294000,"v":0.00052},{"s":"390","f":297000,"v":0.00045},{"s":"390","f":300000,"v":0.00039},{"s":"390","f":304000,"v":0.00036},{"s":"390","f":308000,"v":0.00055},{"s":"390","f":310000,"v":0.00098},{"s":"390","f":312000,"v":0.00129},{"s":"390","f":314000,"v":0.00129},{"s":"390","f":316000,"v":0.00104},{"s":"390","f":318000,"v":0.00079},{"s":"390","f":320000,"v":0.00069},{"s":"390","f":323000,"v":0.00066},{"s":"390","f":326000,"v":0.00063},{"s":"390","f":330000,"v":0.0006},{"s":"390","f":334000,"v":0.00058},{"s":"390","f":338000,"v":0.00057},{"s":"390","f":342000,"v":0.00056},{"s":"390","f":346000,"v":0.00055},{"s":"390","f":350000,"v":0.00052},{"s":"390","f":354000,"v":0.0005},{"s":"390","f":358000,"v":0.00049},{"s":"390","f":362000,"v":0.00048},{"s":"390","f":366000,"v":0.00048},{"s":"390","f":370000,"v":0.00047},{"s":"390","f":374000,"v":0.00047},{"s":"390","f":378000,"v":0.00047},{"s":"390","f":382000,"v":0.00046},{"s":"390","f":386000,"v":0.00046},{"s":"390","f":390000,"v":0.00046},{"s":"390","f":394000,"v":0.00046},{"s":"390","f":398000,"v":0.00045},{"s":"390","f":402000,"v":0.00044},{"s":"390","f":406000,"v":0.00043},{"s":"390","f":410000,"v":0.00042},{"s":"390","f":414000,"v":0.00041},{"s":"390","f":418000,"v":0.0004},{"s":"390","f":422000,"v":0.00038},{"s":"390","f":426000,"v":0.00036},{"s":"390","f":430000,"v":0.0003},{"s":"390","f":434000,"v":0.00025},{"s":"390","f":438000,"v":0.0002},{"s":"390","f":442000,"v":0.00014},{"s":"390","f":446000,"v":0.00016},{"s":"390","f":450000,"v":0.00019},{"s":"390","f":454000,"v":0.00022},{"s":"390","f":458000,"v":0.0002},{"s":"390","f":462000,"v":0.00019},{"s":"390","f":466000,"v":0.00019},{"s":"390","f":470000,"v":0.00016},{"s":"390","f":474000,"v":0.00011},{"s":"390","f":478000,"v":0.0001},{"s":"390","f":482000,"v":0.00009},{"s":"390","f":486000,"v":0.00008},{"s":"390","f":490000,"v":0.00008},{"s":"390","f":494000,"v":0.00009},{"s":"390","f":498000,"v":0.0001},{"s":"390","f":500000,"v":0.00011}
]
},
"hconcat":[
{
"data":{"name":"purdue"},
"width":507,"height":334,
"title":{"text":"(a) noisy condition Purdue","orient":"bottom","anchor":"middle","frame":"bounds","font":"DejaVu Serif","fontSize":19,"fontWeight":"normal","color":"#222","offset":16},
"mark":{"type":"point","filled":true,"opacity":1,"size":34},
"encoding":{
"x":{"field":"f","type":"quantitative","scale":{"domain":[0,500000],"nice":false},"axis":{"title":"frequency f [Hz]","values":[0,100000,200000,300000,400000,500000],"format":"d"}},
"y":{"field":"v","type":"quantitative","scale":{"domain":[0,0.0055],"nice":false},"axis":{"title":"fluctuation magnitude p\u0302 [psi]","values":[0,0.001,0.002,0.003,0.004,0.005],"format":".3~f"}},
"color":{"field":"s","type":"nominal","scale":{"domain":["340","365","390"],"range":["#000000","#d01010","#10c810"]},
"legend":{"title":["Run35 Purdue","noisy condition","p\u2080 = 82.3 psia","T\u2080 = 416 K","Re\u221e / x = 6.52E6 / m"],"labelExpr":"'x = ' + datum.label + ' mm'","offset":16}},
"shape":{"field":"s","type":"nominal","scale":{"domain":["340","365","390"],"range":["square","triangle-up","diamond"]}}
}
},
{
"data":{"name":"braun"},
"width":507,"height":334,
"title":{"text":"(b) noisy condition Braunschweig","orient":"bottom","anchor":"middle","frame":"bounds","font":"DejaVu Serif","fontSize":19,"fontWeight":"normal","color":"#222","offset":16},
"mark":{"type":"point","filled":true,"opacity":1,"size":34},
"encoding":{
"x":{"field":"f","type":"quantitative","scale":{"domain":[0,500000],"nice":false},"axis":{"title":"frequency f [Hz]","values":[0,100000,200000,300000,400000,500000],"format":"d"}},
"y":{"field":"v","type":"quantitative","scale":{"domain":[0,0.0055],"nice":false},"axis":{"title":"fluctuation magnitude p\u0302 [psi]","values":[0,0.001,0.002,0.003,0.004,0.005],"format":".3~f"}},
"color":{"field":"s","type":"nominal","scale":{"domain":["315","340","365","390"],"range":["#33e4f2","#000000","#d01010","#10c810"]},
"legend":{"title":["Run 11 Braunschweig","noisy condition","p\u2080 = 115.1 psia","T\u2080 = 500 K","Re\u221e / x = 6.64E6 / m"],"labelExpr":"'x = ' + datum.label + ' mm'","offset":13}},
"shape":{"field":"s","type":"nominal","scale":{"domain":["315","340","365","390"],"range":["triangle-down","square","triangle-up","diamond"]}}
}
}
],
"resolve":{"scale":{"color":"independent","shape":"independent"},"legend":{"color":"independent","shape":"independent"}},
"config":{
"font":"Liberation Sans",
"view":{"stroke":"#111111","strokeWidth":1},
"axis":{"grid":false,"domain":false,"offset":-7,"tickSize":7,"labelPadding":5,"labelFont":"Liberation Sans","labelFontSize":14.5,"labelColor":"#222222","titleFont":"Liberation Sans","titleFontSize":13.5,"titleFontWeight":"normal","titleColor":"#222222","tickColor":"#111111","labelFlush":false,"labelOverlap":false},
"axisY":{"titlePadding":13},
"axisX":{"titlePadding":6},
"legend":{"orient":"top-right","padding":0,"titleFont":"Liberation Sans","titleFontSize":13.5,"titleFontWeight":"normal","titleColor":"#222222","titleLineHeight":17,"titlePadding":3,"labelFont":"Liberation Sans","labelFontSize":13.5,"labelColor":"#222222","rowPadding":3.5,"symbolSize":34,"symbolStrokeWidth":0,"symbolOffset":-47,"labelOffset":33}
}
}
